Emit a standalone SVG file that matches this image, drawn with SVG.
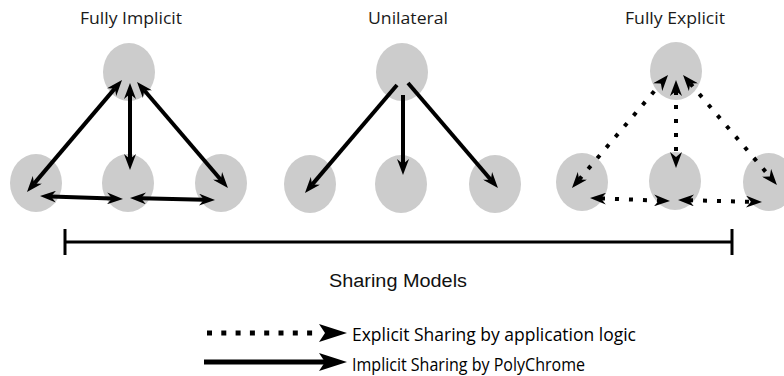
<svg xmlns="http://www.w3.org/2000/svg" width="784" height="376" viewBox="0 0 784 376">
<style>
.node{fill:#cccccc;}
.title{font-family:"Open Sans","Noto Sans",sans-serif;font-size:17px;fill:#1a1a1a;text-anchor:middle;}
.legend{font-family:"Open Sans","Noto Sans",sans-serif;font-size:18px;fill:#000;}
.axis{font-family:"Liberation Sans",Arial,sans-serif;font-size:18px;fill:#111;text-anchor:middle;}
.solid{stroke:#000;stroke-width:4;fill:none;marker-end:url(#ah);}
.solid2{stroke:#000;stroke-width:4;fill:none;marker-start:url(#ah);marker-end:url(#ah);}
.dot2{stroke:#000;stroke-width:4;fill:none;stroke-dasharray:4 10;marker-start:url(#ah);marker-end:url(#ah);}
.bar{stroke:#000;stroke-width:3;fill:none;}
</style>
<defs>
<marker id="ah" markerUnits="userSpaceOnUse" viewBox="0 0 16 12" markerWidth="16" markerHeight="12" refX="5" refY="6" orient="auto-start-reverse">
<path d="M0,0 L16,6 L0,12 L5,6 Z" fill="#000"/>
</marker>
<marker id="ahbig" markerUnits="userSpaceOnUse" viewBox="0 0 28 18" markerWidth="28" markerHeight="18" refX="6" refY="9" orient="auto">
<path d="M0,0 L28,9 L0,18 L6,9 Z" fill="#000"/>
</marker>
<marker id="ahbig0" markerUnits="userSpaceOnUse" viewBox="0 0 28 18" markerWidth="28" markerHeight="18" refX="0" refY="9" orient="auto">
<path d="M0,0 L28,9 L0,18 L6,9 Z" fill="#000"/>
</marker>
</defs>

<g id="titles">
<text class="title" x="131" y="24" textLength="102" lengthAdjust="spacingAndGlyphs">Fully Implicit</text>
<text class="title" x="408" y="24" textLength="80" lengthAdjust="spacingAndGlyphs">Unilateral</text>
<text class="title" x="675" y="24" textLength="100" lengthAdjust="spacingAndGlyphs">Fully Explicit</text>
</g>

<g id="fi-top"><ellipse class="node" cx="129" cy="72" rx="26" ry="29"/></g>
<g id="fi-left"><ellipse class="node" cx="36" cy="183" rx="26" ry="29"/></g>
<g id="fi-mid"><ellipse class="node" cx="128" cy="183" rx="26" ry="29"/></g>
<g id="fi-right"><ellipse class="node" cx="221" cy="183" rx="26" ry="29"/></g>

<g id="uni-top"><ellipse class="node" cx="402" cy="72" rx="26" ry="29"/></g>
<g id="uni-left"><ellipse class="node" cx="310" cy="184" rx="26" ry="29"/></g>
<g id="uni-mid"><ellipse class="node" cx="401" cy="184" rx="26" ry="29"/></g>
<g id="uni-right"><ellipse class="node" cx="495" cy="184" rx="26" ry="29"/></g>

<g id="fe-top"><ellipse class="node" cx="676" cy="71" rx="26" ry="29"/></g>
<g id="fe-left"><ellipse class="node" cx="582" cy="182" rx="26" ry="29"/></g>
<g id="fe-mid"><ellipse class="node" cx="675" cy="181" rx="26" ry="29"/></g>
<g id="fe-right"><ellipse class="node" cx="769" cy="182" rx="26" ry="29"/></g>

<g id="connectors">
<line class="solid2" x1="34.1" y1="183.6" x2="114.9" y2="88.4"/>
<line class="solid2" x1="130" y1="94" x2="130" y2="159"/>
<line class="solid2" x1="144.2" y1="90.3" x2="220.8" y2="179.7"/>
<line class="solid2" x1="51" y1="196.4" x2="112" y2="198.6"/>
<line class="solid2" x1="141" y1="198.2" x2="204" y2="199.8"/>

<line class="solid" x1="397" y1="85" x2="312.1" y2="184.6"/>
<line class="solid" x1="403" y1="95" x2="403" y2="164"/>
<line class="solid" x1="408" y1="83" x2="490.8" y2="179.7"/>

<line class="dot2" x1="579.1" y1="179.6" x2="660.9" y2="83.4"/>
<line class="dot2" x1="676" y1="91" x2="676" y2="157"/>
<line class="dot2" x1="690.2" y1="83.4" x2="769.8" y2="176.6"/>
<line class="dot2" x1="601" y1="198.4" x2="659" y2="200.6"/>
<line class="dot2" x1="689" y1="200.2" x2="751" y2="201.8"/>
</g>

<g id="axis">
<line class="bar" x1="65" y1="242" x2="732" y2="242"/>
<line class="bar" x1="65" y1="229" x2="65" y2="255"/>
<line class="bar" x1="732" y1="229" x2="732" y2="255"/>
<text class="axis" x="398" y="287" textLength="138" lengthAdjust="spacingAndGlyphs">Sharing Models</text>
</g>

<g id="legend">
<line x1="207" y1="333" x2="319" y2="333" stroke="#000" stroke-width="5" stroke-dasharray="5 9.3" marker-end="url(#ahbig0)"/>
<text class="legend" x="352" y="341" textLength="284" lengthAdjust="spacingAndGlyphs">Explicit Sharing by application logic</text>
<line x1="204" y1="362" x2="325" y2="362" stroke="#000" stroke-width="5" marker-end="url(#ahbig)"/>
<text class="legend" x="352" y="371" textLength="233" lengthAdjust="spacingAndGlyphs">Implicit Sharing by PolyChrome</text>
</g>
</svg>
